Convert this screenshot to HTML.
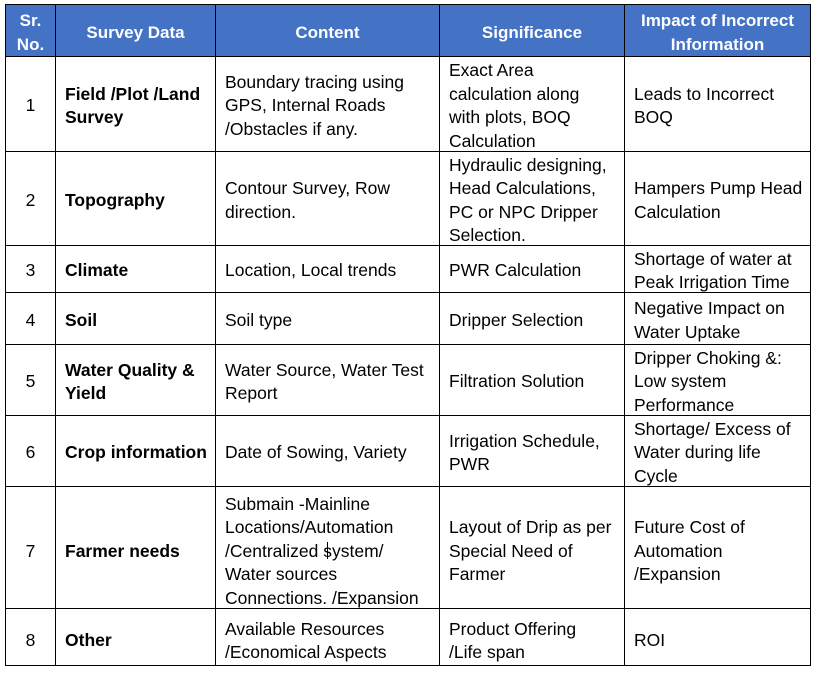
<!DOCTYPE html>
<html>
<head>
<meta charset="utf-8">
<style>
  html, body { margin:0; padding:0; background:#fff; }
  body { width:816px; height:673px; position:relative; overflow:hidden;
         font-family:"Liberation Sans", Arial, sans-serif; color:#000; }
  .hbg { position:absolute; left:5px; top:4px; width:806px; height:52px; background:#4472C4; }
  .v { position:absolute; width:1px; background:#000; top:4px; height:662px; }
  .h { position:absolute; height:1px; background:#000; left:5px; width:806px; }
  .c { position:absolute; display:flex; flex-direction:column; justify-content:center;
       font-size:17.5px; line-height:23.5px; white-space:nowrap; box-sizing:border-box; padding-left:9px;
       transform:translateY(2px); }
  .lo { transform:translateY(4px); }
  .n { align-items:center; padding-left:0; }
  .b { font-weight:bold; }
  .hd { color:#fff; font-weight:bold; font-size:17px; line-height:24px; align-items:center; padding-left:0; text-align:center; }
</style>
</head>
<body>
<div class="hbg"></div>

<!-- header -->
<div class="c hd" style="left:6px;top:5px;width:49px;height:51px;">Sr.<br>No.</div>
<div class="c hd" style="left:56px;top:5px;width:159px;height:51px;">Survey Data</div>
<div class="c hd" style="left:216px;top:5px;width:223px;height:51px;">Content</div>
<div class="c hd" style="left:440px;top:5px;width:184px;height:51px;">Significance</div>
<div class="c hd" style="left:625px;top:5px;width:185px;height:51px;">Impact of Incorrect<br>Information</div>

<!-- row 1 : 56-151 -->
<div class="c n" style="left:6px;top:57px;width:49px;height:94px;">1</div>
<div class="c b" style="left:56px;top:57px;width:159px;height:94px;">Field /Plot /Land<br>Survey</div>
<div class="c" style="left:216px;top:57px;width:223px;height:94px;">Boundary tracing using<br>GPS, Internal Roads<br>/Obstacles if any.</div>
<div class="c" style="left:440px;top:57px;width:184px;height:94px;">Exact Area<br>calculation along<br>with plots, BOQ<br>Calculation</div>
<div class="c" style="left:625px;top:57px;width:185px;height:94px;">Leads to Incorrect<br>BOQ</div>

<!-- row 2 : 151-245 -->
<div class="c n" style="left:6px;top:152px;width:49px;height:93px;">2</div>
<div class="c b" style="left:56px;top:152px;width:159px;height:93px;">Topography</div>
<div class="c" style="left:216px;top:152px;width:223px;height:93px;">Contour Survey, Row<br>direction.</div>
<div class="c" style="left:440px;top:152px;width:184px;height:93px;">Hydraulic designing,<br>Head Calculations,<br>PC or NPC Dripper<br>Selection.</div>
<div class="c" style="left:625px;top:152px;width:185px;height:93px;">Hampers Pump Head<br>Calculation</div>

<!-- row 3 : 245-292 -->
<div class="c n" style="left:6px;top:246px;width:49px;height:46px;">3</div>
<div class="c b" style="left:56px;top:246px;width:159px;height:46px;">Climate</div>
<div class="c" style="left:216px;top:246px;width:223px;height:46px;">Location, Local trends</div>
<div class="c" style="left:440px;top:246px;width:184px;height:46px;">PWR Calculation</div>
<div class="c" style="left:625px;top:246px;width:185px;height:46px;">Shortage of water at<br>Peak Irrigation Time</div>

<!-- row 4 : 292-344 -->
<div class="c n" style="left:6px;top:293px;width:49px;height:51px;">4</div>
<div class="c b" style="left:56px;top:293px;width:159px;height:51px;">Soil</div>
<div class="c" style="left:216px;top:293px;width:223px;height:51px;">Soil type</div>
<div class="c" style="left:440px;top:293px;width:184px;height:51px;">Dripper Selection</div>
<div class="c" style="left:625px;top:293px;width:185px;height:51px;">Negative Impact on<br>Water Uptake</div>

<!-- row 5 : 344-415 -->
<div class="c n" style="left:6px;top:345px;width:49px;height:70px;">5</div>
<div class="c b" style="left:56px;top:345px;width:159px;height:70px;">Water Quality &amp;<br>Yield</div>
<div class="c" style="left:216px;top:345px;width:223px;height:70px;">Water Source, Water Test<br>Report</div>
<div class="c" style="left:440px;top:345px;width:184px;height:70px;">Filtration Solution</div>
<div class="c" style="left:625px;top:345px;width:185px;height:70px;">Dripper Choking &amp;:<br>Low system<br>Performance</div>

<!-- row 6 : 415-486 -->
<div class="c n" style="left:6px;top:416px;width:49px;height:70px;">6</div>
<div class="c b" style="left:56px;top:416px;width:159px;height:70px;">Crop information</div>
<div class="c" style="left:216px;top:416px;width:223px;height:70px;">Date of Sowing, Variety</div>
<div class="c" style="left:440px;top:416px;width:184px;height:70px;">Irrigation Schedule,<br>PWR</div>
<div class="c" style="left:625px;top:416px;width:185px;height:70px;">Shortage/ Excess of<br>Water during life<br>Cycle</div>

<!-- row 7 : 486-608 -->
<div class="c n lo" style="left:6px;top:487px;width:49px;height:121px;">7</div>
<div class="c b lo" style="left:56px;top:487px;width:159px;height:121px;">Farmer needs</div>
<div class="c lo" style="left:216px;top:487px;width:223px;height:121px;">Submain -Mainline<br>Locations/Automation<br>/Centralized system/<br>Water sources<br>Connections. /Expansion</div>
<div class="c lo" style="left:440px;top:487px;width:184px;height:121px;">Layout of Drip as per<br>Special Need of<br>Farmer</div>
<div class="c lo" style="left:625px;top:487px;width:185px;height:121px;">Future Cost of<br>Automation<br>/Expansion</div>

<!-- row 8 : 608-665 -->
<div class="c n lo" style="left:6px;top:609px;width:49px;height:56px;">8</div>
<div class="c b lo" style="left:56px;top:609px;width:159px;height:56px;">Other</div>
<div class="c lo" style="left:216px;top:609px;width:223px;height:56px;">Available Resources<br>/Economical Aspects</div>
<div class="c lo" style="left:440px;top:609px;width:184px;height:56px;">Product Offering<br>/Life span</div>
<div class="c lo" style="left:625px;top:609px;width:185px;height:56px;">ROI</div>

<!-- grid lines -->
<div class="v" style="left:5px;"></div>
<div class="v" style="left:55px;"></div>
<div class="v" style="left:215px;"></div>
<div class="v" style="left:439px;"></div>
<div class="v" style="left:624px;"></div>
<div class="v" style="left:810px;"></div>

<div class="h" style="top:4px;"></div>
<div class="h" style="top:56px;"></div>
<div class="h" style="top:151px;"></div>
<div class="h" style="top:245px;"></div>
<div class="h" style="top:292px;"></div>
<div class="h" style="top:344px;"></div>
<div class="h" style="top:415px;"></div>
<div class="h" style="top:486px;"></div>
<div class="h" style="top:608px;"></div>
<div class="h" style="top:665px;"></div>

<!-- text cursor -->
<div style="position:absolute;left:327px;top:542px;width:1px;height:17px;background:#000;"></div>
</body>
</html>
